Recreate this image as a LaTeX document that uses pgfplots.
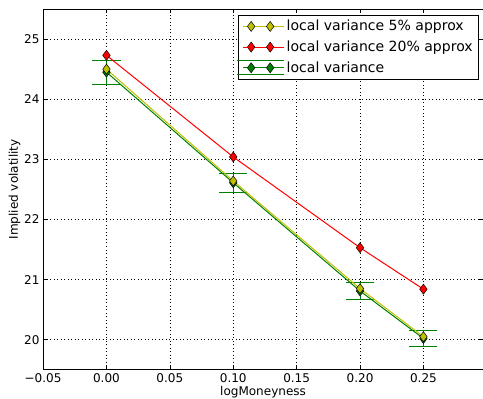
\documentclass[border=0pt]{standalone}
\usepackage{fontspec}
\setmainfont{DejaVu Sans}
\usepackage{pgfplots}
\pgfplotsset{compat=1.18}
\definecolor{mplyellow}{rgb}{0.75,0.75,0}
\definecolor{mplgreen}{rgb}{0,0.5,0}
\definecolor{mplred}{rgb}{1,0,0}
\begin{document}
\begin{tikzpicture}
\begin{axis}[
  name=ax,
  scale only axis,
  width=439pt, height=360pt,
  xmin=-0.05, xmax=0.297, ymin=19.5, ymax=25.5,
  xtick={-0.05,0,0.05,0.1,0.15,0.2,0.25},
  xticklabels={−0.05,0.00,0.05,0.10,0.15,0.20,0.25},
  ytick={20,21,22,23,24,25},
  yticklabels={20,21,22,23,24,25},
  /pgf/number format/assume math mode=true,
  tick label style={font=\fontsize{12}{14}\selectfont},
  label style={font=\fontsize{12}{14}\selectfont},
  xlabel={logMoneyness}, ylabel={Implied volatility},
  xlabel style={yshift=3pt},
  ylabel style={yshift=-3pt},
  tick align=inside, major tick length=4pt,
  minor tick num=0,
  tick style={black, line width=0.5pt},
  axis line style={black, line width=1pt},
  grid=major,
  grid style={black, line width=0.5pt, dash pattern=on 1pt off 2.5pt},
  legend style={at={(1,1)}, anchor=north east, xshift=-4pt, yshift=-6pt,
    draw=black, line width=0.6pt, fill=white,
    font=\fontsize{14}{17}\selectfont, row sep=4.5pt, inner xsep=4pt, inner ysep=3pt},
  legend cell align=left,
  legend image code/.code={
    \path (-8pt,0pt) -- (33pt,0pt);
    \draw[mark=none,#1] (0pt,0pt) -- (19pt,0pt);
    \draw[#1, only marks] plot coordinates {(0pt,0pt) (19pt,0pt)};
  },
]
% local variance (drawn first, beneath)
\addplot[forget plot, color=mplgreen, line width=1pt, mark=diamond*, mark size=5pt,
  mark options={fill=mplgreen, draw=black, line width=0.5pt},
  error bars/.cd, y dir=both, y explicit,
  error bar style={color=mplgreen, line width=1pt},
  error mark options={color=mplgreen, line width=1pt, mark size=14pt, rotate=90}]
  coordinates {
  (0.00,24.45) +- (0,0.20)
  (0.10,22.61) +- (0,0.16)
  (0.20,20.81) +- (0,0.14)
  (0.25,20.02) +- (0,0.14)
};
\addplot[color=mplyellow, line width=1pt, mark=diamond*, mark size=5pt,
  mark options={fill=mplyellow, draw=black, line width=0.5pt}]
  coordinates {(0.00,24.50) (0.10,22.64) (0.20,20.85) (0.25,20.05)};
\addlegendentry{local variance 5\% approx}
\addplot[color=mplred, line width=1pt, mark=diamond*, mark size=5pt,
  mark options={fill=mplred, draw=black, line width=0.5pt}]
  coordinates {(0.00,24.73) (0.10,23.04) (0.20,21.53) (0.25,20.84)};
\addlegendentry{local variance 20\% approx}
\addlegendimage{mplgreen,
  legend image code/.code={
    \path (-8pt,0pt) -- (33pt,0pt);
    \draw[overlay, mplgreen, line width=1pt] (-14pt,7pt) -- (33pt,7pt);
    \draw[overlay, mplgreen, line width=1pt] (-14pt,-7pt) -- (33pt,-7pt);
    \draw[mplgreen, line width=1pt] (0pt,0pt) -- (19pt,0pt);
    \draw[black, fill=mplgreen, line width=0.5pt] plot[mark=diamond*, mark size=5pt, only marks] coordinates {(0pt,0pt) (19pt,0pt)};
  }}
\addlegendentry{local variance}
\end{axis}
\pgfresetboundingbox
\useasboundingbox ([shift={(-43pt,-29pt)}]ax.south west) rectangle ([shift={(0pt,9pt)}]ax.north east);
\end{tikzpicture}
\end{document}
